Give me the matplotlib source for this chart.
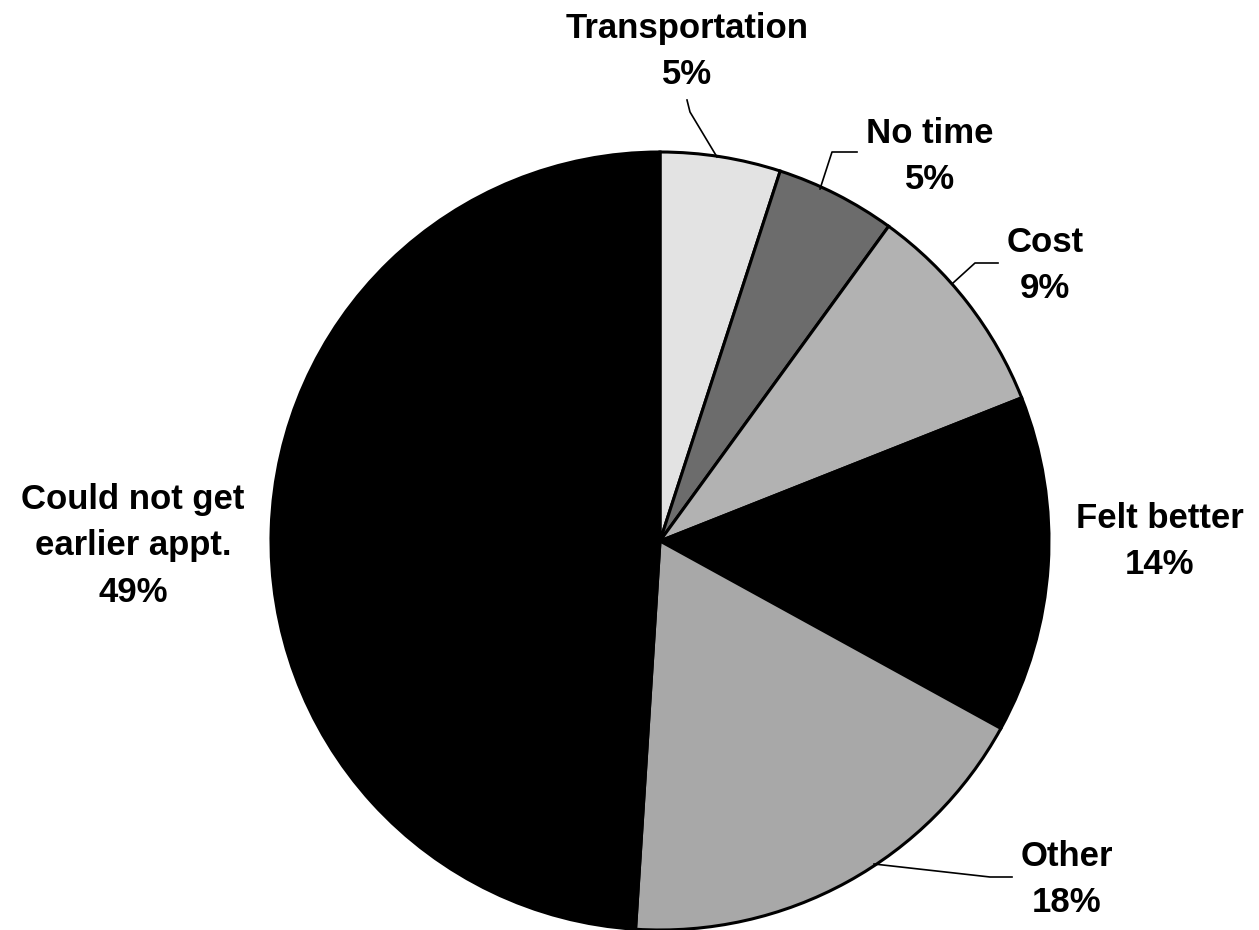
import matplotlib
matplotlib.use('Agg')
import matplotlib.pyplot as plt

# reasons for missed follow-up, share of respondents (%)
reasons = ['Transportation', 'No time', 'Cost', 'Felt better', 'Other',
           'Could not get\nearlier appt.']
shares = [5, 5, 9, 14, 18, 49]
shades = ['#e3e3e3', '#6c6c6c', '#b2b2b2', '#000000', '#a8a8a8', '#000000']

# label anchors (pixel coords, y from top) and leader line paths
label_pos = [(687, 52), (930, 157), (1045, 266), (1160, 541), (1067, 880), (133, 546)]
leaders = [
    [(687, 100), (690, 112), (717, 157)],
    [(857, 152), (832, 152), (820, 189)],
    [(998, 263), (975, 263), (953, 283)],
    None,
    [(874, 864), (990, 877), (1012, 877)],
    None,
]

W, H = 1259, 930
fig = plt.figure(figsize=(W / 100, H / 100), dpi=100)
ax = fig.add_axes([0, 0, 1, 1])

ax.pie(shares, colors=shades, startangle=90, counterclock=False,
       center=(660, H - 541), radius=389, frame=True,
       wedgeprops=dict(edgecolor='black', linewidth=2.2))
ax.set_xlim(0, W)
ax.set_ylim(0, H)
ax.set_aspect('equal')
ax.axis('off')

for name, val, (x, y), path in zip(reasons, shares, label_pos, leaders):
    ax.text(x, H - y, f'{name}\n{val}%', ha='center', va='center',
            fontsize=25, fontweight='bold', family='Liberation Sans',
            linespacing=1.5, color='black')
    if path:
        ax.plot([p[0] for p in path], [H - p[1] for p in path],
                color='black', linewidth=1.2)

fig.savefig('out.png', dpi=100, facecolor='white')
